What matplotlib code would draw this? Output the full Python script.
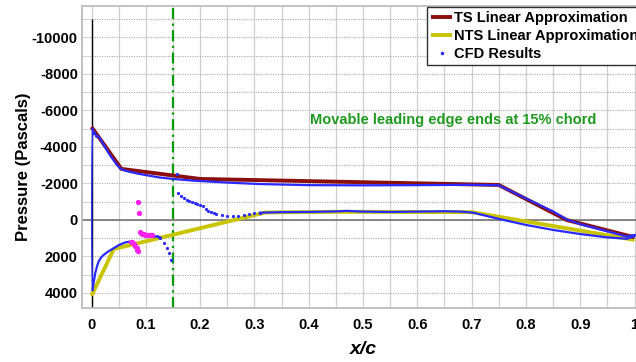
import matplotlib
matplotlib.use("Agg")
import matplotlib.pyplot as plt
from matplotlib.ticker import MultipleLocator, FixedLocator

plt.rcParams['font.family'] = ['Liberation Sans', 'DejaVu Sans']
plt.rcParams['axes.unicode_minus'] = False

# ---- data ----
ts_x = [0.0, 0.055, 0.20, 0.75, 0.875, 1.0]
ts_p = [-5100, -2800, -2250, -1920, 0, 950]

nts_x = [0.0, 0.041, 0.32, 0.45, 0.70, 1.0]
nts_p = [4150, 1590, -410, -450, -430, 1090]

# CFD results (blue) - upper surface
cfd_up_x = [0.002, 0.004, 0.006, 0.009, 0.012, 0.016, 0.022, 0.028, 0.034, 0.040,
            0.046, 0.052, 0.060, 0.070, 0.085, 0.100, 0.125, 0.150, 0.190, 0.250,
            0.310, 0.400, 0.500, 0.600, 0.700, 0.750, 0.800, 0.850, 0.875, 0.900,
            0.950, 0.985, 1.000]
cfd_up_p = [-5000, -4700, -4800, -4550, -4600, -4450, -4150, -3850, -3550, -3300,
            -3050, -2850, -2720, -2640, -2540, -2460, -2330, -2250, -2150, -2050,
            -1970, -1910, -1900, -1910, -1930, -1900, -1180, -470, -30, 230,
            620, 900, 820]

# leading edge (stagnation to suction peak)
cfd_le_x = [0.002, 0.001, 0.0005, 0.0005, 0.001, 0.002]
cfd_le_p = [3830, 2500, 1000, -1500, -3500, -5000]

# lower surface, ahead of the hinge
cfd_lo1_x = [0.002, 0.004, 0.007, 0.010, 0.013, 0.017, 0.022, 0.030, 0.038, 0.050,
             0.062, 0.072]
cfd_lo1_p = [3830, 3400, 2900, 2550, 2280, 2080, 1920, 1740, 1600, 1380,
             1230, 1180]

# lower surface, after magenta segment (sparse)
cfd_lo2_x = [0.112, 0.116, 0.120, 0.124, 0.127, 0.133, 0.139, 0.143, 0.147]
cfd_lo2_p = [830, 850, 880, 930, 1000, 1277, 1551, 1790, 2190]

# lower surface, aft of 15% chord
cfd_lo3_x = [0.157, 0.160, 0.165, 0.170, 0.175, 0.180, 0.185, 0.190, 0.195, 0.200,
             0.205, 0.210, 0.215, 0.220, 0.225, 0.230, 0.240, 0.250, 0.260, 0.270,
             0.280, 0.290, 0.300, 0.310]
cfd_lo3_p = [-2500, -1480, -1320, -1200, -1100, -1040, -980, -930, -880, -820,
             -740, -620, -500, -420, -360, -310, -250, -220, -215, -230,
             -260, -320, -370, -400]

cfd_lo4_x = [0.310, 0.350, 0.400, 0.450, 0.470, 0.500, 0.550, 0.600, 0.650, 0.680,
             0.703, 0.753, 0.800, 0.851, 0.900, 0.949, 0.986, 1.000]
cfd_lo4_p = [-400, -430, -440, -470, -500, -460, -440, -460, -480, -460,
             -400, -40, 270, 550, 770, 950, 1030, 880]

# magenta points
mag_x = [0.073, 0.075, 0.077, 0.079, 0.081, 0.083, 0.084, 0.086, 0.086, 0.087,
         0.089, 0.091, 0.093, 0.096, 0.099, 0.102, 0.105, 0.108, 0.111]
mag_p = [1180, 1200, 1240, 1300, 1400, 1520, 1620, 1720, -970, -400,
         640, 720, 770, 790, 810, 820, 820, 825, 820]

xticks = [0, 0.1, 0.2, 0.3, 0.4, 0.5, 0.6, 0.7, 0.8, 0.9, 1.0]
xticklabels = ['0', '0.1', '0.2', '0.3', '0.4', '0.5', '0.6', '0.7', '0.8', '0.9', '1']
yticks = [-10000, -8000, -6000, -4000, -2000, 0, 2000, 4000]
yticklabels = ['-10000', '-8000', '-6000', '-4000', '-2000', '0', '2000', '4000']

# ---- figure ----
W, H = 636, 362
fig = plt.figure(figsize=(W / 100, H / 100), dpi=100)
xlim = (-0.0175, 1.02)
ylim = (4822, -11726)
left_px, right_px = 82, 645.4
top_px, bot_px = 6, 308
ax = fig.add_axes([left_px / W, 1 - bot_px / H, (right_px - left_px) / W, (bot_px - top_px) / H])
ax.set_xlim(*xlim)
ax.set_ylim(*ylim)

# grid
ax.xaxis.set_major_locator(FixedLocator(xticks))
ax.xaxis.set_minor_locator(MultipleLocator(0.05))
ax.yaxis.set_major_locator(FixedLocator(yticks))
ax.yaxis.set_minor_locator(MultipleLocator(1000))
ax.grid(True, axis='x', which='both', color='#cfcfcf', lw=0.9, ls='-')
ax.grid(True, axis='y', which='both', color='#a8a8a8', lw=0.8, ls=(0, (1, 1.2)))
ax.set_axisbelow(True)

ax.set_xticklabels(xticklabels, fontsize=10.5, fontweight='bold')
ax.set_yticklabels(yticklabels, fontsize=10.5, fontweight='bold')
ax.tick_params(which='both', length=0)
ax.tick_params(axis='y', pad=3)
ax.tick_params(axis='x', pad=7)
for s in ax.spines.values():
    s.set_color('#bdbdbd')
    s.set_linewidth(1.3)

# reference lines
ax.axhline(0, color='#6a6a6a', lw=1.1, zorder=1.5)
ax.vlines(0, -11000, ylim[0], color='black', lw=1.0, zorder=1.6)
ax.axvline(0.15, color='#0a9a0a', lw=1.6, ls=(0, (5, 2, 1, 2)), zorder=1.7)

# series
ax.plot(nts_x, nts_p, color='#c8c400', lw=2.8, solid_capstyle='butt',
        label='NTS Linear Approximation', zorder=3)
ax.plot(ts_x, ts_p, color='#8b0f0f', lw=2.8, solid_capstyle='butt',
        label='TS Linear Approximation', zorder=3.1)

blue = '#2a2aff'
for xs, ps, w in [(cfd_up_x, cfd_up_p, 1.6), (cfd_le_x, cfd_le_p, 1.0),
                  (cfd_lo1_x, cfd_lo1_p, 1.6), (cfd_lo4_x, cfd_lo4_p, 1.6)]:
    ax.plot(xs, ps, color=blue, lw=w, zorder=4)
ax.plot(cfd_lo2_x, cfd_lo2_p, ls='none', marker='o', ms=1.3, color=blue, zorder=4)
ax.plot(cfd_lo3_x, cfd_lo3_p, ls='none', marker='o', ms=1.3, color=blue, zorder=4)
ax.plot(mag_x, mag_p, ls='none', marker='o', ms=2.8, color='#ff22ee', zorder=4.2)

cfd_handle, = ax.plot([], [], ls='none', marker='o', ms=1.5, color=blue,
                      label='CFD Results')

# annotation
ax.text(0.666, -5480, 'Movable leading edge ends at 15% chord', color='#1f9a1f',
        fontsize=10.5, fontweight='bold', ha='center', va='center')

# legend
h, l = ax.get_legend_handles_labels()
order = [l.index('TS Linear Approximation'), l.index('NTS Linear Approximation'),
         l.index('CFD Results')]
leg = ax.legend([h[i] for i in order], [l[i] for i in order],
                loc='upper left', bbox_to_anchor=(427 / W, 1 - 7 / H),
                bbox_transform=fig.transFigure, borderaxespad=0,
                prop={'size': 10.5, 'weight': 'bold'}, handlelength=1.4,
                handletextpad=0.15, labelspacing=0.25, borderpad=0.3,
                fancybox=False, framealpha=1, edgecolor='#303030')
leg.get_frame().set_linewidth(1.0)
leg.set_zorder(10)

# axis labels
fig.text(363 / W, 1 - 350 / H, 'x/c', fontsize=14, fontweight='bold',
         style='italic', ha='center', va='center')
fig.text(24 / W, 1 - 167 / H, 'Pressure (Pascals)', fontsize=12, fontweight='bold',
         rotation=90, ha='center', va='center')

fig.savefig('out.png', dpi=100)
